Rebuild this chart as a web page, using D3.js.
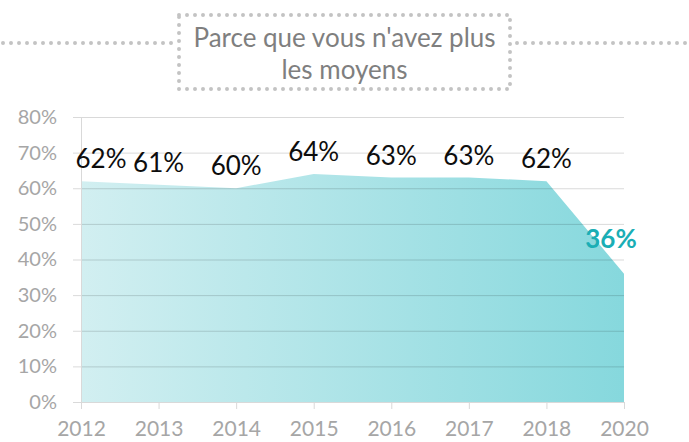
<!DOCTYPE html>
<html>
<head>
<meta charset="utf-8">
<script src="https://cdn.jsdelivr.net/npm/d3@7"></script>
<style>
  body { margin: 0; background: #fff; }
  svg { display: block; font-family: Lato, "Open Sans", sans-serif; }
</style>
</head>
<body>
<div id="chart"></div>
<script>
// data
const years = ["2012", "2013", "2014", "2015", "2016", "2017", "2018", "2020"];
const values = [62, 61, 60, 64, 63, 63, 62, 36];
const yTicks = [0, 10, 20, 30, 40, 50, 60, 70, 80];
const titleLines = ["Parce que vous n'avez plus", "les moyens"];

const W = 689, H = 442;
const margin = {top: 117, left: 81, right: 65, bottom: 40};
const plotW = W - margin.left - margin.right;   // 543
const plotH = H - margin.top - margin.bottom;   // 285

const svg = d3.select("#chart").append("svg")
    .attr("width", W)
    .attr("height", H);

// gradient for the area
const grad = svg.append("defs").append("linearGradient")
    .attr("id", "areaGrad")
    .attr("x1", "0%").attr("x2", "100%")
    .attr("y1", "0%").attr("y2", "0%");
grad.append("stop").attr("offset", "0%").attr("stop-color", "#d2eff1");
grad.append("stop").attr("offset", "100%").attr("stop-color", "#86d8dd");

// title box with dotted border and side lines
const title = svg.append("g").attr("class", "title");
const dotStyle = sel => sel
    .attr("fill", "none")
    .attr("stroke", "#c3c3c3")
    .attr("stroke-width", 4)
    .attr("stroke-linecap", "round")
    .attr("stroke-dasharray", "0 8");

title.append("rect")
    .attr("x", 179).attr("y", 15)
    .attr("width", 331).attr("height", 74)
    .call(dotStyle);
title.append("line")
    .attr("x1", 3).attr("x2", 175).attr("y1", 43).attr("y2", 43)
    .call(dotStyle);
title.append("line")
    .attr("x1", 517).attr("x2", 689).attr("y1", 43).attr("y2", 43)
    .call(dotStyle);

title.selectAll("text")
    .data(titleLines)
    .join("text")
    .attr("x", 344.5)
    .attr("y", (d, i) => 47 + i * 32)
    .attr("text-anchor", "middle")
    .attr("font-size", 26)
    .attr("fill", "#7f7f7f")
    .text(d => d);

const g = svg.append("g")
    .attr("transform", `translate(${margin.left},${margin.top})`);

// scales
const x = d3.scalePoint()
    .domain(years)
    .range([0, plotW]);

const y = d3.scaleLinear()
    .domain([0, 80])
    .range([plotH, 0]);

// area
const area = d3.area()
    .x((d, i) => x(years[i]))
    .y0(plotH)
    .y1(d => y(d));

g.append("path")
    .datum(values)
    .attr("fill", "url(#areaGrad)")
    .attr("d", area);

// grid lines (drawn on top, translucent)
g.append("g")
    .attr("class", "grid")
    .call(d3.axisLeft(y).tickValues(yTicks).tickSize(-plotW).tickFormat(""))
    .call(a => a.select(".domain").remove())
    .call(a => a.selectAll("line")
        .attr("stroke", "#000")
        .attr("stroke-opacity", 0.15)
        .attr("x1", -8));

// y axis
const yAxis = g.append("g")
    .call(d3.axisLeft(y).tickValues(yTicks).tickSize(0).tickPadding(24).tickFormat(d => d + "%"));
yAxis.select(".domain").attr("stroke", "#d9d9d9");
yAxis.selectAll("text")
    .attr("font-size", 20)
    .attr("font-family", "Lato, sans-serif")
    .attr("fill", "#a6a6a6");

// x axis
const xAxis = g.append("g")
    .attr("transform", `translate(0,${plotH})`)
    .call(d3.axisBottom(x).tickSize(7).tickPadding(12));
xAxis.select(".domain").attr("stroke", "#d9d9d9").attr("d", `M0,0.5H${plotW}`);
xAxis.selectAll("line").attr("stroke", "#d9d9d9");
xAxis.selectAll("text")
    .attr("font-size", 21)
    .attr("font-family", "Lato, sans-serif")
    .attr("fill", "#a6a6a6");

// value labels
const last = values.length - 1;
const labelHalf = 26;
g.selectAll(".label")
    .data(values)
    .join("text")
    .attr("class", "label")
    .attr("x", (d, i) => {
        const px = x(years[i]);
        return Math.min(Math.max(px, labelHalf - 6), plotW + 13 - labelHalf);
    })
    .attr("y", (d, i) => y(d) - (i === last ? 26 : 13))
    .attr("text-anchor", "middle")
    .attr("font-size", 26)
    .attr("font-weight", (d, i) => i === last ? "bold" : "normal")
    .attr("fill", (d, i) => i === last ? "#1aaeb5" : "#0d0d0d")
    .text(d => d + "%");
</script>
</body>
</html>
